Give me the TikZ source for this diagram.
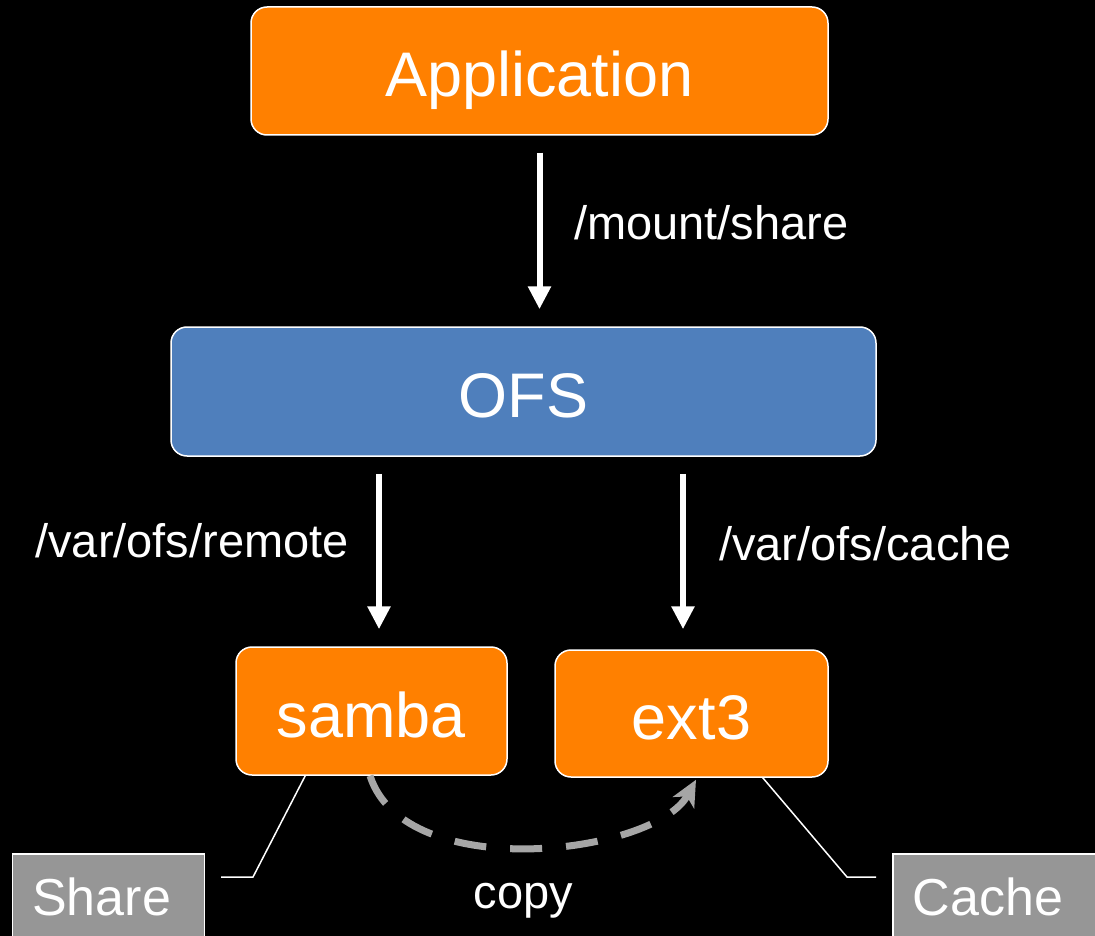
\documentclass[tikz,border=0pt]{standalone}
\usepackage{fontspec}
\setmainfont{Liberation Sans}
\usetikzlibrary{arrows.meta,calc,positioning}

\definecolor{fsorange}{RGB}{255,128,0}
\definecolor{fsblue}{RGB}{79,127,188}
\definecolor{taggray}{RGB}{150,150,150}
\definecolor{copygray}{RGB}{166,166,166}

\begin{document}
\begin{tikzpicture}[x=1pt,y=-1pt,>={Triangle[length=23pt,width=22pt]},
    fs node/.style={rounded corners=16pt,draw=white,line width=1.5pt,text=white,inner sep=0pt,
        font=\fontsize{63}{70}\selectfont,text height=52pt,text depth=0pt},
    tag node/.style={fill=taggray,draw=white,line width=1.5pt,text=white,anchor=north west,
        font=\fontsize{52}{60}\selectfont,minimum height=92pt,inner xsep=20pt,inner ysep=0pt,
        text height=32pt,text depth=0pt,align=left},
    path label/.style={text=white,inner sep=0pt,font=\fontsize{47}{54}\selectfont},
    mount arrow/.style={->,white,line width=6pt,shorten <=17pt,shorten >=17pt},
    pointer/.style={white,line width=1.5pt},
    copy arrow/.style={-{Stealth[length=26pt,width=24pt,inset=7pt]},copygray,line width=7pt,
        dash pattern=on 32pt off 24pt}]
    \fill[black] (0,0) rectangle (1095,936);
    \useasboundingbox (0,0) rectangle (1095,936);

    % boxes
    \node[fs node,fill=fsorange,minimum width=577pt,minimum height=128pt] (app) at (539.5,71) {Application};
    \node[fs node,fill=fsblue,minimum width=705pt,minimum height=129pt] (ofs) at (523.5,391.5) {OFS};
    \node[fs node,fill=fsorange,minimum width=271pt,minimum height=128pt] (samba) at (371.5,711) {samba};
    \node[fs node,fill=fsorange,minimum width=273pt,minimum height=127pt] (ext3) at (691.5,713.5) {ext3};

    \node[tag node,text width=152pt] (share) at (11.5,853) {Share};
    \node[tag node,text width=200pt] (cache) at (892,853) {Cache};

    % mount points
    \draw[mount arrow] (app.south) -- (app.south |- ofs.north);
    \draw[mount arrow] ($(ofs.south -| samba.north)+(7.5,0)$) -- ($(samba.north)+(7.5,0)$);
    \draw[mount arrow] ($(ofs.south -| ext3.north)+(-8.5,0)$) -- ($(ext3.north)+(-8.5,-3)$);

    \node[path label,anchor=base west] (mountlbl) at (574,240) {/mount/share};
    \node[path label,anchor=base east] (remotelbl) at (349,557) {/var/ofs/remote};
    \node[path label,anchor=base west] (cachelbl) at (719,560) {/var/ofs/cache};

    % copy from samba to ext3
    \draw[copy arrow] ($(samba.south)+(-1.5,0)$) .. controls (405,885) and (655,855) .. ($(ext3.south)+(4.5,2)$);
    \node[path label,anchor=base] (copylbl) at (523.5,908) {copy};

    % callouts
    \draw[pointer] ($(samba.south west)+(70,0)$) -- (253,877) -- ($(share.north east)+(16,24)$);
    \draw[pointer] ($(ext3.south east)+(-66,0)$) -- (847,877) -- ($(cache.north west)+(-16,24)$);
\end{tikzpicture}
\end{document}
